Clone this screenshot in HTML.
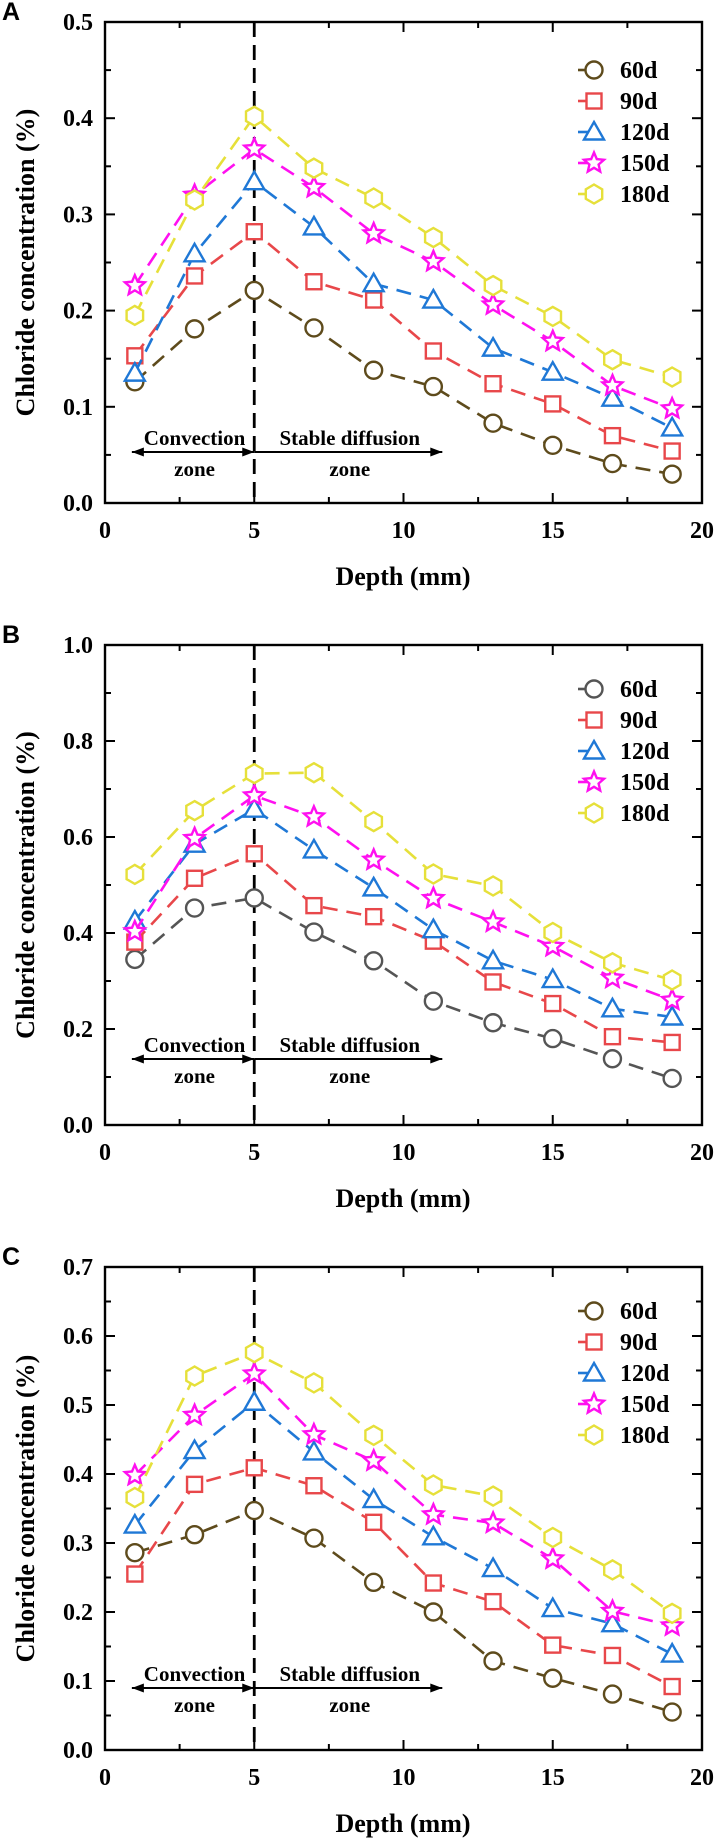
<!DOCTYPE html>
<html><head><meta charset="utf-8"><style>
body{margin:0;background:#fff}
svg{display:block}
text{font-family:"Liberation Serif",serif;font-weight:bold;fill:#000}
.pl{font-family:"Liberation Sans",sans-serif;font-size:25px}
</style></head><body>
<svg id="fig" width="720" height="1843" viewBox="0 0 720 1843"></svg>
<script>
const depths=[1,3,5,7,9,11,13,15,17,19];
const seriesNames=['60d','90d','120d','150d','180d'];
const a60=[0.126,0.181,0.221,0.182,0.138,0.121,0.083,0.060,0.041,0.030];
const a90=[0.153,0.236,0.282,0.230,0.211,0.158,0.124,0.103,0.070,0.054];
const a120=[0.135,0.259,0.334,0.287,0.228,0.211,0.161,0.136,0.109,0.078];
const a150=[0.226,0.320,0.368,0.328,0.280,0.251,0.206,0.168,0.122,0.098];
const a180=[0.195,0.315,0.402,0.348,0.317,0.276,0.226,0.194,0.149,0.131];
const b60=[0.345,0.452,0.473,0.402,0.342,0.258,0.213,0.180,0.138,0.097];
const b90=[0.381,0.514,0.565,0.457,0.434,0.383,0.298,0.253,0.184,0.172];
const b120=[0.425,0.585,0.658,0.573,0.494,0.407,0.342,0.303,0.242,0.225];
const b150=[0.403,0.597,0.686,0.642,0.552,0.472,0.423,0.372,0.306,0.260];
const b180=[0.522,0.655,0.732,0.734,0.632,0.523,0.498,0.401,0.338,0.302];
const c60=[0.286,0.312,0.347,0.307,0.243,0.200,0.129,0.104,0.081,0.055];
const c90=[0.255,0.385,0.409,0.383,0.330,0.242,0.215,0.152,0.137,0.092];
const c120=[0.326,0.434,0.504,0.432,0.363,0.309,0.263,0.205,0.183,0.139];
const c150=[0.398,0.485,0.545,0.457,0.419,0.341,0.329,0.277,0.201,0.180];
const c180=[0.366,0.542,0.576,0.532,0.456,0.384,0.368,0.308,0.261,0.198];
const xTicks=['0','5','10','15','20'];
const aYTicks=['0.0','0.1','0.2','0.3','0.4','0.5'];
const bYTicks=['0.0','0.2','0.4','0.6','0.8','1.0'];
const cYTicks=['0.0','0.1','0.2','0.3','0.4','0.5','0.6','0.7'];

const NS='http://www.w3.org/2000/svg';
const svg=document.getElementById('fig');
function mk(tag,attrs,parent){const e=document.createElementNS(NS,tag);for(const k in attrs)e.setAttribute(k,attrs[k]);(parent||svg).appendChild(e);return e;}
const shapes=['circle','square','triangle','star','hexagon'];
function marker(g,shape,x,y,col){
  const sw=2.4;let e;
  if(shape==='circle'){e=mk('circle',{cx:x,cy:y,r:8.5,fill:'#fff',stroke:col,'stroke-width':sw},g);}
  else if(shape==='square'){e=mk('rect',{x:x-7.5,y:y-7.5,width:15,height:15,fill:'#fff',stroke:col,'stroke-width':sw},g);}
  else if(shape==='triangle'){e=mk('polygon',{points:`${x},${y-10} ${x+10},${y+7.5} ${x-10},${y+7.5}`,fill:'#fff',stroke:col,'stroke-width':sw},g);}
  else if(shape==='star'){let p=[];for(let i=0;i<10;i++){const r=i%2?4.8:10.5;const a=-Math.PI/2+i*Math.PI/5;p.push((x+r*Math.cos(a)).toFixed(1)+','+(y+r*Math.sin(a)).toFixed(1));}e=mk('polygon',{points:p.join(' '),fill:'#fff',stroke:col,'stroke-width':sw},g);}
  else {let p=[];for(let i=0;i<6;i++){const a=-Math.PI/2+i*Math.PI/3;p.push((x+9.5*Math.cos(a)).toFixed(1)+','+(y+9.5*Math.sin(a)).toFixed(1));}e=mk('polygon',{points:p.join(' '),fill:'#fff',stroke:col,'stroke-width':sw},g);}
  return e;
}
function panel(o){
  const L=105,R=702,T=o.top,B=o.bot;
  const g=mk('g',{});
  
  
  const xs=v=>L+(v/20)*(R-L);
  const ys=v=>B-(v/o.ymax)*(B-T);
  const lab=mk('text',{x:2,y:T-2,class:'pl'},g);lab.textContent=o.label;
  
  
  const fr=mk('rect',{x:L,y:T,width:R-L,height:B-T,fill:'none',stroke:'#000','stroke-width':2.4},g);
  
  
  for(let v=0;v<=20;v+=2.5){const maj=v%5===0;const len=maj?10:6;const x=xs(v);
    mk('line',{x1:x,y1:B,x2:x,y2:B-len,stroke:'#000','stroke-width':2},g);
    mk('line',{x1:x,y1:T,x2:x,y2:T+len,stroke:'#000','stroke-width':2},g);}
  xTicks.forEach(t=>{const e=mk('text',{x:xs(+t),y:B+35,'text-anchor':'middle','font-size':24},g);e.textContent=t;
    
    });
  const step=o.yt.length>1?(+o.yt[1]-+o.yt[0]):0.1;
  for(let i=0;i<=(o.yt.length-1)*2;i++){const v=i*step/2;const maj=i%2===0;const len=maj?10:6;const y=ys(v);
    mk('line',{x1:L,y1:y,x2:L+len,y2:y,stroke:'#000','stroke-width':2},g);
    mk('line',{x1:R,y1:y,x2:R-len,y2:y,stroke:'#000','stroke-width':2},g);}
  o.yt.forEach(t=>{const e=mk('text',{x:93,y:ys(+t)+8,'text-anchor':'end','font-size':24},g);e.textContent=t;
    
    });
  const xt=mk('text',{x:403,y:B+82,'text-anchor':'middle','font-size':26},g);xt.textContent='Depth (mm)';
  
  
  const cy=(T+B)/2;
  const yt=mk('text',{x:0,y:0,'text-anchor':'middle','font-size':26,transform:`translate(34,${cy}) rotate(-90)`},g);yt.textContent='Chloride concentration (%)';
  
  
  const vl=mk('line',{x1:xs(5),y1:T,x2:xs(5),y2:B,stroke:'#000','stroke-width':2.8,'stroke-dasharray':'15 8'},g);
  
  
  const ay=B-o.arr;
  const an=mk('g',{},g);
  
  
  mk('line',{x1:xs(0.9),y1:ay,x2:xs(5),y2:ay,stroke:'#000','stroke-width':2},an);
  mk('line',{x1:xs(5),y1:ay,x2:xs(11.3),y2:ay,stroke:'#000','stroke-width':2},an);
  [[xs(0.9),1],[xs(5),-1],[xs(11.3),-1]].forEach(([x,d])=>mk('polygon',{points:`${x},${ay} ${x+d*12},${ay-4.5} ${x+d*12},${ay+4.5}`,fill:'#000'},an));
  const t1=mk('text',{x:xs(3.0),y:ay-7,'text-anchor':'middle','font-size':21},an);t1.textContent='Convection';
  const t2=mk('text',{x:xs(3.0),y:ay+24,'text-anchor':'middle','font-size':21},an);t2.textContent='zone';
  const t3=mk('text',{x:xs(8.2),y:ay-7,'text-anchor':'middle','font-size':21},an);t3.textContent='Stable diffusion';
  const t4=mk('text',{x:xs(8.2),y:ay+24,'text-anchor':'middle','font-size':21},an);t4.textContent='zone';
  o.series.forEach((vals,si)=>{
    const col=o.colors[si];
    const sg=mk('g',{},g);
    
    
    const pts=depths.map((d,i)=>xs(d).toFixed(1)+','+ys(vals[i]).toFixed(1)).join(' ');
    mk('polyline',{points:pts,fill:'none',stroke:col,'stroke-width':2.6,'stroke-dasharray':'15 9'},sg);
    depths.forEach((d,i)=>{const m=marker(sg,shapes[si],xs(d),ys(vals[i]),col);
      
      });
    const ly=T+o.leg+si*31;
    const lg=mk('g',{},g);
    
    
    mk('line',{x1:578,y1:ly,x2:593,y2:ly,stroke:col,'stroke-width':2.6},lg);
    marker(lg,shapes[si],594,ly,col);
    const lt=mk('text',{x:620,y:ly+8,'font-size':24},lg);lt.textContent=seriesNames[si];
  });
}
const colA=['#5e4b1c','#e8474a','#1f78d6','#ff10f0','#e6e03a'];
const colB=['#555555','#e8474a','#1f78d6','#ff10f0','#e6e03a'];
panel({label:'A',top:22,bot:503,ymax:0.5,yt:aYTicks,series:[a60,a90,a120,a150,a180],colors:colA,arr:51,leg:48});
panel({label:'B',top:645,bot:1125,ymax:1.0,yt:bYTicks,series:[b60,b90,b120,b150,b180],colors:colB,arr:66,leg:44});
panel({label:'C',top:1267,bot:1750,ymax:0.7,yt:cYTicks,series:[c60,c90,c120,c150,c180],colors:colA,arr:62,leg:44});
</script>
</body></html>
